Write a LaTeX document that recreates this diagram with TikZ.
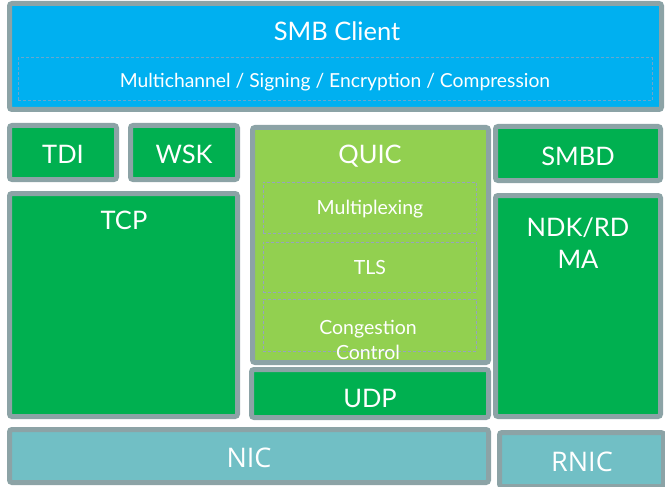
\documentclass[tikz,border=0pt]{standalone}
\usepackage{fontspec}
\setmainfont{Lato}
\newfontfamily\nicfont{Open Sans}
\definecolor{edgegray}{HTML}{8CA3A6}
\definecolor{smbblue}{HTML}{00B0F0}
\definecolor{boxgreen}{HTML}{00B050}
\definecolor{quicgreen}{HTML}{92D050}
\definecolor{nicteal}{HTML}{71BFC5}
\definecolor{dashblue}{HTML}{6AA6CC}
\definecolor{dashgray}{HTML}{96A3BE}
\tikzset{
  layerbox/.style={draw=edgegray, line width=5pt, rounded corners=2.5pt,
    inner sep=0pt, outer sep=0pt},
  subbox/.style={draw=#1, line width=1pt, dash pattern=on 3pt off 2pt,
    inner sep=0pt, outer sep=0pt},
  biglbl/.style={text=white, font=\fontsize{25.5}{30}\selectfont, inner sep=0pt},
  smalllbl/.style={text=white, font=\fontsize{19.5}{23}\selectfont, inner sep=0pt},
}
\begin{document}
\begin{tikzpicture}[x=1pt, y=-1pt]
\useasboundingbox (0,0) rectangle (665,487);
\clip (0,0) rectangle (665,487);

% SMB client layer
\node[layerbox, fill=smbblue, minimum width=652pt, minimum height=106pt] (smb) at (335.5,56.5) {};
\node[subbox=dashblue, minimum width=634pt, minimum height=43pt] (features) at (335,79.5) {};
\node[biglbl] (smbtxt) at (337,31) {SMB Client};
\node[smalllbl, font=\fontsize{19.3}{23}\selectfont] (featurestxt) at (335,82.5) {Multichannel / Signing / Encryption / Compression};

% transport interfaces
\node[layerbox, fill=boxgreen, minimum width=107pt, minimum height=54pt] (tdi) at (63,152.5) {};
\node[biglbl] (tditxt) at (63,154) {TDI};
\node[layerbox, fill=boxgreen, minimum width=107pt, minimum height=54pt] (wsk) at (184,152.5) {};
\node[biglbl] (wsktxt) at (184,154) {WSK};
\node[layerbox, fill=boxgreen, minimum width=228pt, minimum height=223pt] (tcp) at (123.5,305) {};
\node[biglbl] (tcptxt) at (124,220.5) {TCP};

% QUIC stack
\node[layerbox, fill=quicgreen, minimum width=236pt, minimum height=235pt] (quic) at (370.5,245) {};
\node[biglbl] (quictxt) at (370,156) {QUIC};
\node[subbox=dashgray, minimum width=213pt, minimum height=51pt] (mux) at (369.5,207.5) {};
\node[smalllbl] (muxtxt) at (370,209.5) {Multiplexing};
\node[subbox=dashgray, minimum width=213pt, minimum height=50pt] (tls) at (369.5,267) {};
\node[smalllbl] (tlstxt) at (370,268) {TLS};
\node[subbox=dashgray, minimum width=213pt, minimum height=52pt] (cc) at (369.5,325) {};
\node[smalllbl, align=center, font=\fontsize{19.5}{25}\selectfont] (cctxt) at (368,339.5) {Congestion\\Control};
\node[layerbox, fill=boxgreen, minimum width=237pt, minimum height=48pt] (udp) at (370,393.5) {};
\node[biglbl] (udptxt) at (370,398) {UDP};

% RDMA path
\node[layerbox, fill=boxgreen, minimum width=165pt, minimum height=54pt] (smbd) at (578,153.5) {};
\node[biglbl] (smbdtxt) at (578,156) {SMBD};
\node[layerbox, fill=boxgreen, minimum width=165pt, minimum height=221pt] (ndk) at (578,306) {};
\node[biglbl, align=center, font=\fontsize{25.5}{32}\selectfont] (ndktxt) at (578,243) {NDK/RD\\MA};

% hardware
\node[layerbox, fill=nicteal, minimum width=479pt, minimum height=53pt] (nic) at (249,456) {};
\node[biglbl, font=\nicfont\fontsize{27}{30}\selectfont] (nictxt) at (249,458) {NIC};
\node[layerbox, fill=nicteal, minimum width=164pt, minimum height=54pt] (rnic) at (581.5,459.5) {};
\node[biglbl, font=\nicfont\fontsize{27}{30}\selectfont] (rnictxt) at (582,462) {RNIC};
\end{tikzpicture}
\end{document}
